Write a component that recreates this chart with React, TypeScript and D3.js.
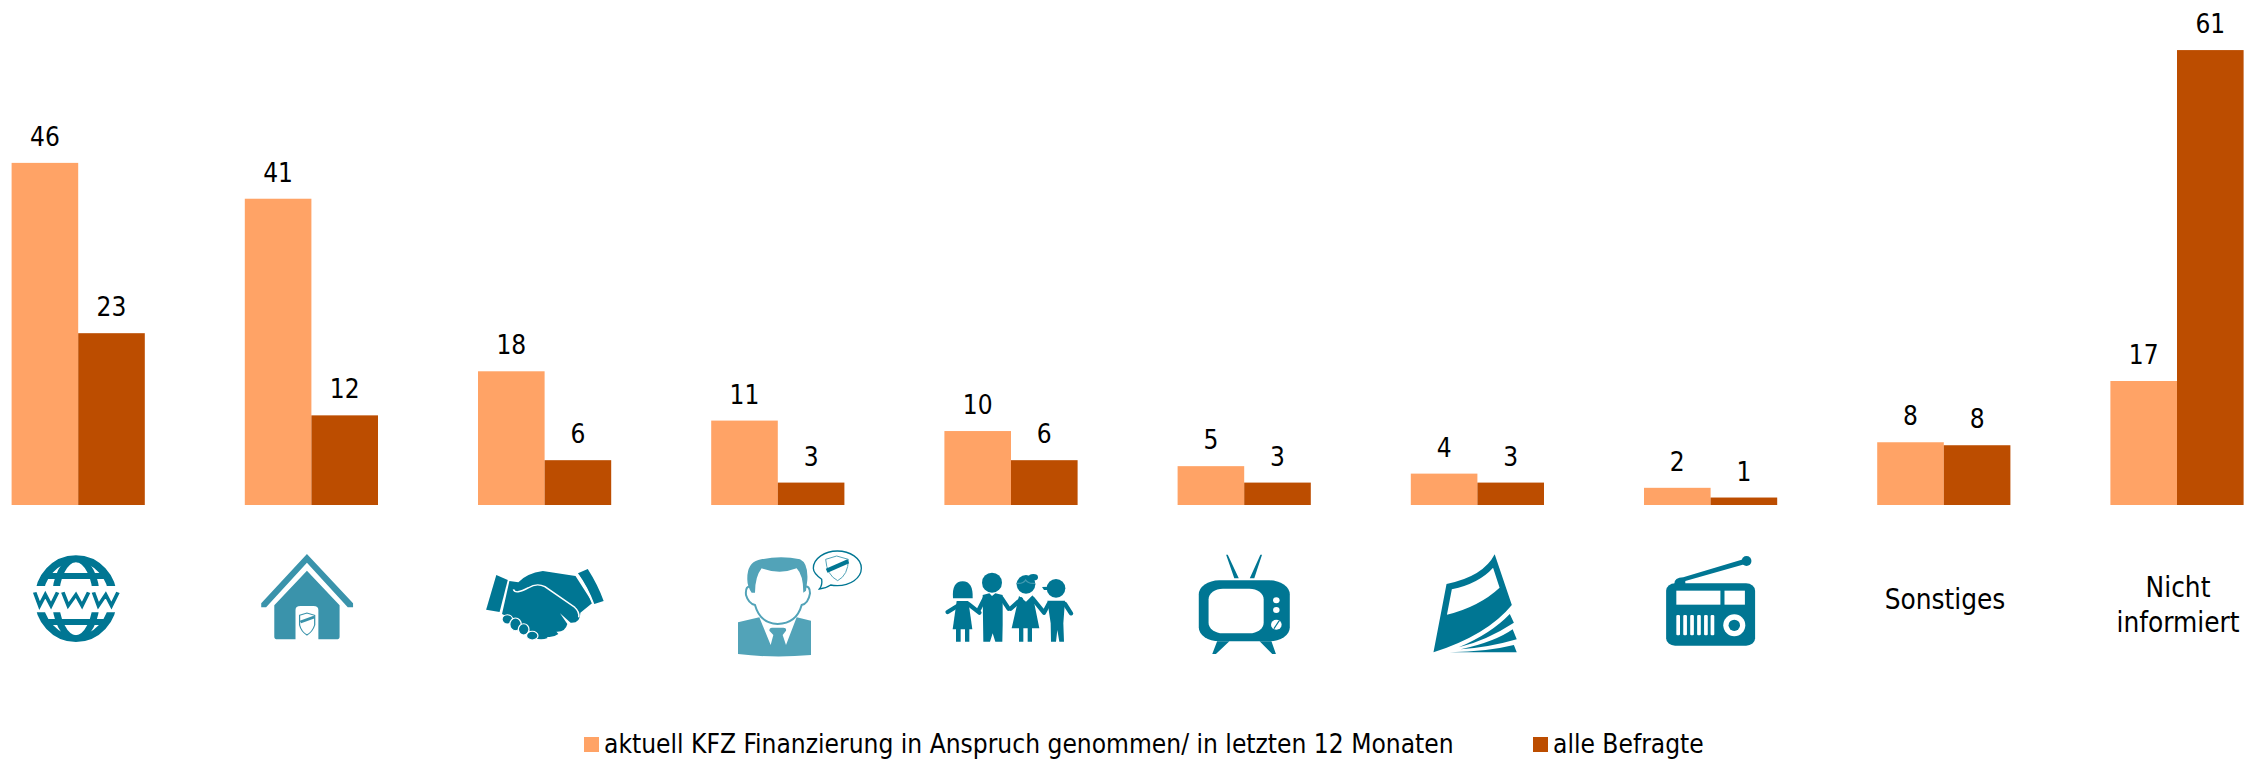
import React from 'react';
import * as d3 from 'd3';

const categories = ['www','haus','hand','berater','familie','tv','print','radio','Sonstiges','Nicht informiert'];
const seriesA = [45.8,41,17.9,11.3,9.9,5.2,4.2,2.3,8.4,16.6];
const seriesB = [23,12,6,3,6,3,3,1,8,60.9];
const seriesNames = ['aktuell KFZ Finanzierung in Anspruch genommen/ in letzten 12 Monaten','alle Befragte'];
const colors = ['#FFA366','#BC4D00'];
const TEAL = '#007693', HOUSE = '#3A93AB', PERSON = '#52A3B8';

const W = 2257, H = 759, baseY = 505, perUnit = 7.47;
const y = d3.scaleLinear().domain([0,61]).range([baseY, baseY-61*perUnit]);
const step = 233.2, left = 11.6, barW = 66.6;
const x0 = d3.scaleBand().domain(categories).range([left, left+step*categories.length]);
const font = "'DejaVu Sans Condensed','DejaVu Sans',sans-serif";

const G = ({ox,sx,sy=3,children}:{ox:number,sx:number,sy?:number,children:any}) =>
  <g transform={`translate(${ox},520) scale(${1/sx},${1/sy})`}>{children}</g>;

function Www(){
  return <g fill="none" stroke={TEAL}>
    <clipPath id="wc"><rect x="60" y="100" width="250" height="98"/><rect x="60" y="277" width="250" height="95"/></clipPath>
    <g clipPath="url(#wc)">
      <ellipse cx="186" cy="236" rx="91" ry="120" strokeWidth="20"/>
      <ellipse cx="186" cy="236" rx="50" ry="118" strokeWidth="17"/>
      <path d="M112 168H260M112 306H260" strokeWidth="18"/>
    </g>
    <path d="M85 217L97 257L111 224L125 257L141 217M154 217L167 257L186 224L201 257L217 217M229 217L241 257L259 224L273 257L289 217" strokeWidth="9"/>
  </g>;
}
function House(){
  return <g>
    <path fill={HOUSE} d="M752 102L865 250V262H852L752 128L652 262H640V250Z"/>
    <path fill={HOUSE} d="M752 152L832 256V350Q832 358 824 358H780V270Q780 258 768 258H736Q724 258 724 270V358H680Q672 358 672 350V256Z"/>
    <path fill="#fff" stroke={HOUSE} strokeWidth="3" d="M734 286L752 279L771 286V315Q766 335 752 345Q738 335 734 315Z"/>
    <path stroke={HOUSE} strokeWidth="8" d="M736 306L770 291"/>
  </g>;
}
function Hand(){
  return <g fill={TEAL}>
    <path d="M1216 165L1244 180L1224 276L1191 269Z"/>
    <path d="M1416 160L1440 147Q1465 195 1479 243L1456 252Q1440 200 1416 160Z"/>
    <path d="M1248 183L1270 187Q1290 160 1330 153L1410 168L1452 248L1422 278Q1422 310 1398 308L1372 280L1390 312Q1385 337 1362 335L1342 305L1368 342Q1355 354 1338 350L1318 325L1342 354Q1325 362 1310 354L1290 320L1230 282Z"/>
    <g stroke="#fff" strokeWidth="3">
      <ellipse cx="1243" cy="298" rx="13" ry="14"/>
      <ellipse cx="1263" cy="313" rx="14" ry="19"/>
      <ellipse cx="1283" cy="328" rx="13" ry="17"/>
      <ellipse cx="1304" cy="347" rx="14" ry="13"/>
    </g>
    <path fill="none" stroke="#fff" strokeWidth="4" d="M1258 208Q1262 225 1295 203Q1315 188 1335 200L1408 262Q1420 275 1418 292"/>
    <path fill="none" stroke="#fff" strokeWidth="4" d="M1416 165Q1438 205 1452 250"/>
  </g>;
}
function Berater(){
  return <g>
    <path fill={PERSON} d="M294 307L358 292L392 375L400 345L388 332Q388 323 396 323H430Q440 323 438 332L428 345L438 375L470 292L513 302V405Q400 415 294 402Z"/>
    <path fill={PERSON} d="M322 180Q320 130 355 120Q420 105 480 118Q505 130 502 180L498 212L490 218Q490 165 470 145Q420 165 365 145Q345 170 345 218L335 218Q322 200 322 180Z"/>
    <path fill="none" stroke={PERSON} strokeWidth="6" d="M335 200Q315 195 318 225Q325 250 345 255Q360 310 413 312Q470 310 485 255Q505 250 510 220Q510 195 492 200"/>
    <path fill="#fff" stroke={TEAL} strokeWidth="4" d="M545 178Q520 160 520 145C520 115 555 93 592 93C630 93 664 115 664 145C664 175 630 197 592 197Q580 197 572 195Q558 205 538 207Q548 195 545 178Z"/>
    <path fill="#fff" stroke={PERSON} strokeWidth="3" d="M557 118L590 108L625 118Q625 165 593 182Q560 165 557 118Z"/>
    <path stroke={TEAL} strokeWidth="13" d="M560 152L625 124"/>
  </g>;
}
function Familie(){
  return <g fill={TEAL} stroke={TEAL} strokeLinecap="round">
    <g stroke="none">
      <path d="M939 235Q935 184 968 184Q1000 184 998 235Z"/>
      <circle cx="1056" cy="188" r="30"/>
      <circle cx="1158" cy="193" r="28"/>
      <ellipse cx="1180" cy="172" rx="14" ry="10"/>
      <circle cx="1248" cy="205" r="28"/>
      <path d="M1206 201L1226 200V210H1212Z"/>
      <path d="M950 243H985L997 328H938Z"/>
      <path d="M948 325H962V365H948ZM975 325H988V365H975Z"/>
      <path d="M1028 225L1048 220L1056 228L1066 220L1088 225V315L1087 365H1066L1058 340L1050 365H1030Z"/>
      <path d="M1137 228L1158 245L1178 226L1198 325H1115Z"/>
      <path d="M1137 320H1150V365H1137ZM1163 320H1176V365H1163Z"/>
      <path d="M1222 242H1275L1270 310L1272 365H1258L1252 330L1248 365H1233L1232 310Z"/>
    </g>
    <g fill="none" strokeWidth="13">
      <path d="M923 276L952 258M985 252L1018 278M1034 235L1016 270M1085 235L1106 266M1143 238L1112 266M1178 236L1212 278M1226 252L1212 278M1275 252L1293 280"/>
    </g>
    <path fill="none" stroke={PERSON} strokeWidth="4" d="M1130 190Q1150 192 1157 180Q1165 192 1184 190" opacity="0.8"/>
  </g>;
}
function Tv(){
  return <g fill={TEAL}>
    <path d="M260 104H264L291 175H280ZM344 104H348L329 175H318Z"/>
    <rect x="193" y="181" width="223" height="183" rx="50" ry="42"/>
    <path d="M238 364H268L235 402H226ZM342 364H371L382 402H373Z"/>
    <rect x="217" y="206" width="135" height="134" rx="35" ry="32" fill="#fff"/>
    <ellipse cx="383" cy="241" rx="8" ry="9" fill="#fff"/>
    <ellipse cx="383" cy="270" rx="8" ry="9" fill="#fff"/>
    <ellipse cx="383" cy="314" rx="13" ry="15" fill="#fff"/>
    <path d="M377 326L390 302" stroke={TEAL} strokeWidth="3"/>
  </g>;
}
function Print(){
  return <g fill={TEAL}>
    <path d="M918 103L960 255Q900 345 768 397L800 192Q890 170 918 103Z"/>
    <path fill="#fff" d="M914 143L930 203Q880 260 801 284L813 208Q880 190 914 143Z"/>
    <path d="M955 282L965 308Q900 360 830 382Q910 340 955 282Z"/>
    <path d="M962 328L972 358Q905 382 835 388Q920 365 962 328Z"/>
    <path d="M965 375L972 397H808Q900 395 965 375Z"/>
  </g>;
}
function Radio(){
  const bars = [1363,1380,1397,1414,1431,1447];
  return <g fill={TEAL}>
    <path d="M1358 192Q1358 172 1380 172L1527 118L1532 132L1385 183V195Z"/>
    <ellipse cx="1535" cy="123" rx="12" ry="15"/>
    <rect x="1338" y="190" width="218" height="187" rx="22" ry="22"/>
    <rect x="1363" y="212" width="108" height="42" fill="#fff"/>
    <rect x="1481" y="212" width="50" height="42" fill="#fff"/>
    {bars.map(b=><rect key={b} x={b} y="285" width="9" height="61" rx="3" fill="#fff"/>)}
    <ellipse cx="1505" cy="316" rx="27" ry="33" fill="#fff"/>
    <ellipse cx="1505" cy="316" rx="14" ry="17"/>
  </g>;
}

export default function App(){
  const fmt = (v:number)=>String(Math.round(v));
  return <svg width={W} height={H} style={{position:'absolute',left:0,top:0,background:'#fff'}} fontFamily={font} fill="#000">
    {categories.map((c,i)=>{
      const bx = x0(c)!;
      return <g key={c}>
        <rect x={bx} y={y(seriesA[i])} width={barW} height={baseY-y(seriesA[i])} fill={colors[0]}/>
        <rect x={bx+barW} y={y(seriesB[i])} width={barW} height={baseY-y(seriesB[i])} fill={colors[1]}/>
        <text x={bx+barW/2} y={y(seriesA[i])-17} textAnchor="middle" fontSize={26}>{fmt(seriesA[i])}</text>
        <text x={bx+barW*1.5} y={y(seriesB[i])-17} textAnchor="middle" fontSize={26}>{fmt(seriesB[i])}</text>
      </g>;
    })}
    <G ox={0} sx={2.45}><Www/><House/><Hand/></G>
    <G ox={640} sx={3}><Berater/><Familie/></G>
    <G ox={1120} sx={2.45}><Tv/><Print/><Radio/></G>
    <text x={1945} y={609} textAnchor="middle" fontSize={27.7}>Sonstiges</text>
    <text x={2178} y={597} textAnchor="middle" fontSize={27.7}>Nicht</text>
    <text x={2178} y={632} textAnchor="middle" fontSize={27.7}>informiert</text>
    <rect x={584} y={737} width={15} height={15} fill={colors[0]}/>
    <text x={604} y={753} fontSize={26.1}>{seriesNames[0]}</text>
    <rect x={1533} y={737} width={15} height={15} fill={colors[1]}/>
    <text x={1553} y={753} fontSize={26.1}>{seriesNames[1]}</text>
  </svg>;
}
